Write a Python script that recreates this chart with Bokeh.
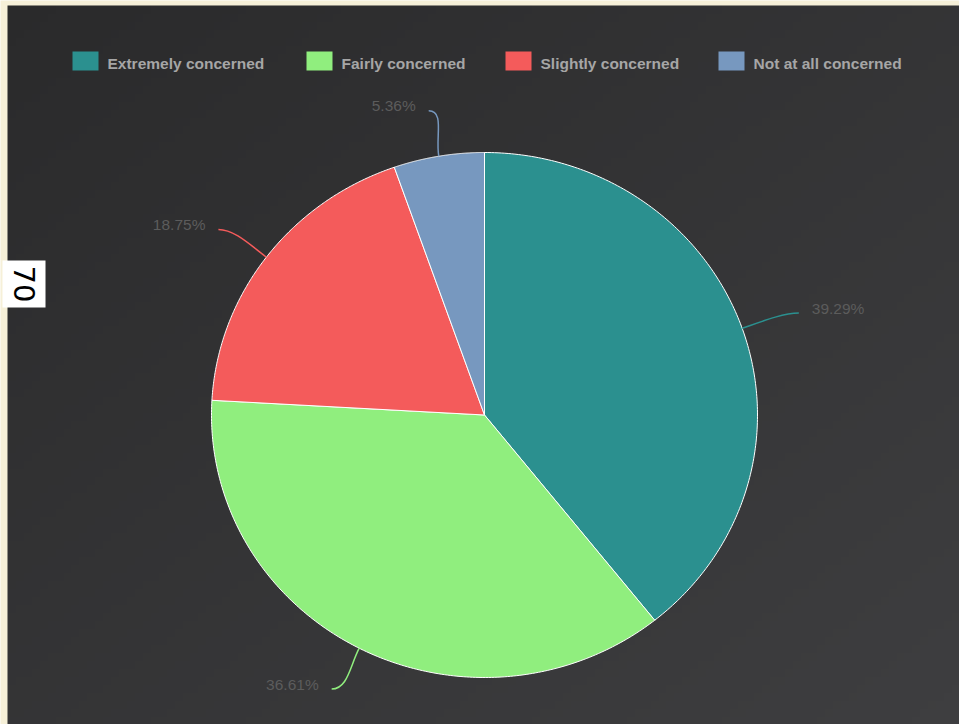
import numpy as np
from bokeh.plotting import figure
from bokeh.models import Range1d, ColumnDataSource
from bokeh.core.properties import value
from bokeh.embed import file_html
from bokeh.resources import INLINE

# ---------------- data ----------------
categories = ["Extremely concerned", "Fairly concerned", "Slightly concerned", "Not at all concerned"]
percent = [39.29, 36.61, 18.75, 5.36]
side_label = "70"

# ---------------- style / layout ----------------
colors = ["#2b908f", "#90ee7e", "#f45b5b", "#7798bf"]
W, H = 959, 724
PANEL_X0, PANEL_Y0 = 7, 5           # pixel coords (top-left origin)
CX, CY_PIX = 484, 414.5             # pie centre (pixels)
RX, RY = 273, 262.5                 # pie radii (pixels)
LEG_X = [72, 306, 505, 718]          # legend swatch left edges
LEG_Y = 60.5

def Y(ypix):
    return H - ypix

p = figure(width=W, height=H, output_backend="svg", toolbar_location=None,
           x_range=Range1d(0, W), y_range=Range1d(0, H), min_border=0)
p.axis.visible = False
p.grid.visible = False
p.outline_line_color = None
p.background_fill_color = "#f6f0d8"
p.border_fill_color = "#f6f0d8"

# ---------------- gradient panel ----------------
gh, gw = 90, 120
v = 1 - np.linspace(0, 1, gh)[:, None]   # row 0 = bottom
u = np.linspace(0, 1, gw)[None, :]
t = (u + v) / 2
c0 = np.array([0x2a, 0x2a, 0x2b], float)
c1 = np.array([0x3e, 0x3e, 0x40], float)
img = np.zeros((gh, gw), dtype=np.uint32)
view = img.view(dtype=np.uint8).reshape((gh, gw, 4))
for k in range(3):
    view[:, :, k] = np.round(c0[k] + (c1[k] - c0[k]) * t).astype(np.uint8)
view[:, :, 3] = 255
p.image_rgba(image=[img], x=PANEL_X0, y=0, dw=W - PANEL_X0, dh=H - PANEL_Y0)

# ---------------- pie (elliptical wedges) ----------------
cy = Y(CY_PIX)
frac = np.array(percent) / sum(percent)
ends = np.cumsum(frac) * 2 * np.pi
starts = ends - frac * 2 * np.pi
xs, ys = [], []
for a0, a1 in zip(starts, ends):
    th = np.linspace(a0, a1, 200)
    xs.append([CX] + list(CX + RX * np.sin(th)))
    ys.append([cy] + list(cy + RY * np.cos(th)))
p.patches(xs, ys, fill_color=colors, line_color="#ffffff", line_width=1)

# ---------------- connectors and data labels ----------------
mid = (starts + ends) / 2
s, c = np.sin(mid), np.cos(mid)
ex, ey = CX + RX * s, cy + RY * c
tx, ty = CX + (RX + 60) * s, cy + (RY + 46) * c
side = np.sign(s)
p.bezier(x0=ex, y0=ey, x1=tx, y1=ty,
         cx0=ex + 20 * s, cy0=ey + 20 * c,
         cx1=tx - side * 16, cy1=ty,
         line_color=colors, line_width=1.5)
lab_src = ColumnDataSource(dict(
    x=tx + side * 13, y=ty + 5,
    text=[f"{v:.2f}%" for v in percent],
    align=["left" if sd > 0 else "right" for sd in side]))
p.text(x="x", y="y", text="text", source=lab_src, text_align="align",
       text_baseline="middle", text_color="#5c5c5c", text_font_size="15.5px",
       text_font=value("Liberation Sans"))

# ---------------- legend ----------------
p.rect(x=[lx + 13 for lx in LEG_X], y=[Y(LEG_Y)] * 4, width=26, height=19,
       fill_color=colors, line_color=None)
p.text(x=[lx + 35 for lx in LEG_X], y=[Y(LEG_Y + 2)] * 4, text=categories,
       text_baseline="middle", text_align="left", text_color="#a6a6a6",
       text_font_size="15.5px", text_font_style="bold",
       text_font=value("Liberation Sans"))

# ---------------- side label ----------------
p.rect(x=[23.5], y=[Y(283.5)], width=43, height=47, fill_color="#ffffff", line_color=None)
p.text(x=[24], y=[Y(283.5)], text=[side_label], angle=-np.pi / 2,
       text_align="center", text_baseline="middle", text_color="#000000",
       text_font_size="29px", text_font=value("DejaVu Sans"))

open("out.html", "w").write(file_html(p, INLINE))
